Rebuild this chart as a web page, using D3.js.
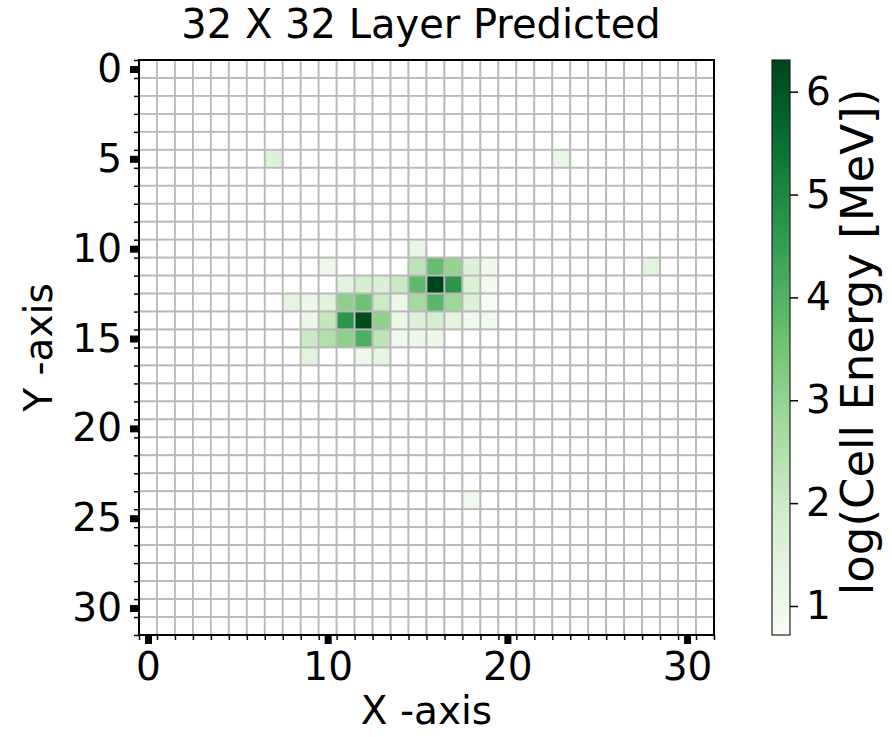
<!DOCTYPE html>
<html>
<head>
<meta charset="utf-8">
<script src="https://cdn.jsdelivr.net/npm/d3@7"></script>
<style>
  html, body { margin: 0; padding: 0; background: #fff; }
  text { font-family: "DejaVu Sans", sans-serif; fill: #000; }
</style>
</head>
<body>
<div id="chart"></div>
<script>
// layer is 32 x 32 cells
const gridSize = 32;
const xTicks = [0, 10, 20, 30];
const yTicks = [0, 5, 10, 15, 20, 25, 30];
const cbTicks = [1, 2, 3, 4, 5, 6];
const cbDomain = [0.718, 6.308];

// non-empty cells: column, row, log(energy)
const hitCol = [7, 23, 15, 10, 15, 16, 17, 18, 19, 28,
  11, 12, 13, 14, 15, 16, 17, 18, 19,
  8, 9, 10, 11, 12, 13, 14, 15, 16, 17, 18, 19,
  9, 10, 11, 12, 13, 14, 15, 16, 17, 18, 19,
  9, 10, 11, 12, 13, 14, 15, 16,
  9, 12, 13,
  18];
const hitRow = [5, 5, 10, 11, 11, 11, 11, 11, 11, 11,
  12, 12, 12, 12, 12, 12, 12, 12, 12,
  13, 13, 13, 13, 13, 13, 13, 13, 13, 13, 13, 13,
  14, 14, 14, 14, 14, 14, 14, 14, 14, 14, 14,
  15, 15, 15, 15, 15, 15, 15, 15,
  16, 16, 16,
  24];
const hitVal = [1.55, 1.2, 1.2, 1.05, 2.3, 3.7, 3.0, 1.55, 1.05, 1.45,
  1.45, 1.75, 1.65, 2.05, 3.8, 6.3, 4.7, 1.6, 0.95,
  1.35, 1.1, 1.5, 3.1, 3.6, 2.0, 1.1, 2.75, 3.9, 2.85, 1.55, 0.75,
  1.1, 2.15, 4.7, 6.2, 3.1, 1.1, 1.55, 1.75, 1.4, 0.95, 0.95,
  2.05, 2.5, 3.1, 4.1, 2.3, 0.95, 1.1, 1.1,
  1.45, 1.05, 1.3,
  0.95];

const W = 892, H = 737;
const plot = {left: 139, top: 60, size: 575};
const cb = {left: 772, width: 18};
const fontSize = 39;

const svg = d3.select('#chart').append('svg').attr('width', W).attr('height', H);

const x = d3.scaleLinear().domain([-0.5, gridSize - 0.5]).range([plot.left, plot.left + plot.size]);
const y = d3.scaleLinear().domain([-0.5, gridSize - 0.5]).range([plot.top, plot.top + plot.size]);
const color = d3.scaleSequential(d3.interpolateGreens).domain(cbDomain);

const energy = new Map();
hitVal.forEach((v, i) => energy.set(hitRow[i] * gridSize + hitCol[i], v));

const cells = d3.range(gridSize * gridSize).map(k => ({c: k % gridSize, r: Math.floor(k / gridSize), v: energy.get(k)}));

svg.append('g').selectAll('rect').data(cells).join('rect')
  .attr('x', d => x(d.c - 0.5))
  .attr('y', d => y(d.r - 0.5))
  .attr('width', x(1) - x(0))
  .attr('height', y(1) - y(0))
  .attr('fill', d => d.v == null ? '#fff' : color(d.v))
  .attr('stroke', '#b9b9b9')
  .attr('stroke-width', 1.8);

// frame
svg.append('rect')
  .attr('x', plot.left).attr('y', plot.top)
  .attr('width', plot.size).attr('height', plot.size)
  .attr('fill', 'none').attr('stroke', '#000').attr('stroke-width', 2);

const bounds = d3.range(-0.5, gridSize, 1);

function styleAxis(g, w){
  g.select('.domain').remove();
  g.selectAll('.tick line').attr('stroke', '#000').attr('stroke-width', w);
  g.selectAll('.tick text').style('font-size', fontSize + 'px').style('font-family', '"DejaVu Sans", sans-serif');
}

// minor ticks on cell boundaries
svg.append('g').attr('transform', `translate(0,${plot.top + plot.size})`)
  .call(d3.axisBottom(x).tickValues(bounds).tickSize(5).tickFormat(''))
  .call(g => styleAxis(g, 1.5));
svg.append('g').attr('transform', `translate(${plot.left},0)`)
  .call(d3.axisLeft(y).tickValues(bounds).tickSize(5).tickFormat(''))
  .call(g => styleAxis(g, 1.5));

// major ticks
svg.append('g').attr('transform', `translate(0,${plot.top + plot.size + 1})`)
  .call(d3.axisBottom(x).tickValues(xTicks).tickSize(8).tickPadding(8).tickFormat(d3.format('d')))
  .call(g => styleAxis(g, 7));
svg.append('g').attr('transform', `translate(${plot.left - 1},0)`)
  .call(d3.axisLeft(y).tickValues(yTicks).tickSize(8).tickPadding(8).tickFormat(d3.format('d')))
  .call(g => styleAxis(g, 7));

svg.append('text')
  .attr('x', 421).attr('y', 38)
  .attr('text-anchor', 'middle').style('font-size', '40px')
  .text('32 X 32 Layer Predicted');

svg.append('text')
  .attr('x', plot.left + plot.size / 2).attr('y', 724)
  .attr('text-anchor', 'middle').style('font-size', fontSize + 'px')
  .text('X -axis');

svg.append('text')
  .attr('transform', `translate(52,${plot.top + plot.size / 2}) rotate(-90)`)
  .attr('text-anchor', 'middle').style('font-size', fontSize + 'px')
  .text('Y -axis');

// colorbar
const cy = d3.scaleLinear().domain(cbDomain).range([plot.top + plot.size, plot.top]);
const grad = svg.append('defs').append('linearGradient')
  .attr('id', 'cbgrad').attr('x1', 0).attr('y1', 1).attr('x2', 0).attr('y2', 0);
grad.selectAll('stop').data(d3.range(0, 1.0001, 0.05)).join('stop')
  .attr('offset', d => d)
  .attr('stop-color', d => d3.interpolateGreens(d));

svg.append('rect')
  .attr('x', cb.left).attr('y', plot.top)
  .attr('width', cb.width).attr('height', plot.size)
  .attr('fill', 'url(#cbgrad)').attr('stroke', '#222').attr('stroke-width', 1.2);

svg.append('g').attr('transform', `translate(${cb.left + cb.width},0)`)
  .call(d3.axisRight(cy).tickValues(cbTicks).tickSize(8).tickPadding(8).tickFormat(d3.format('d')))
  .call(g => styleAxis(g, 1.5));

svg.append('text')
  .attr('transform', `translate(873,342) rotate(-90)`)
  .attr('text-anchor', 'middle').style('font-size', '45px')
  .text('log(Cell Energy [MeV])');
</script>
</body>
</html>
